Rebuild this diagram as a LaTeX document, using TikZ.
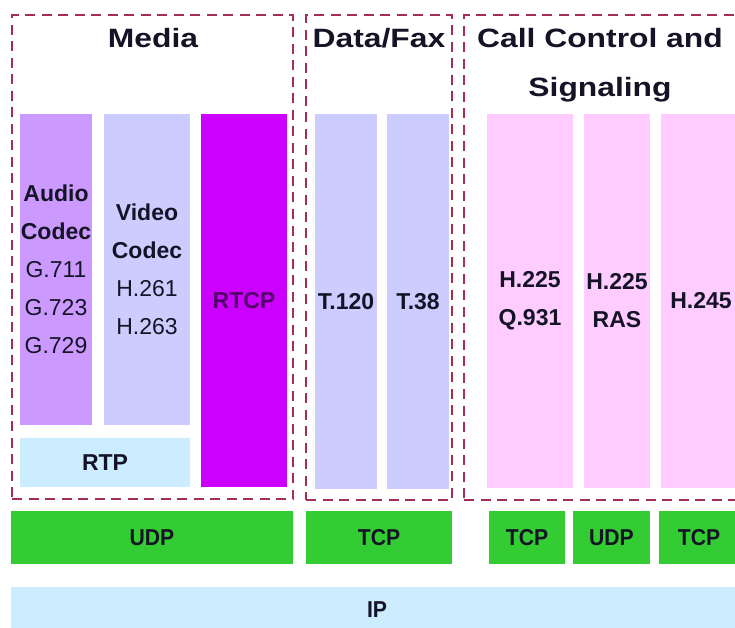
\documentclass[tikz,border=0pt]{standalone}
\usepackage{fontspec}
\setmainfont{Liberation Sans}
\newfontfamily\titlefont[FakeStretch=1.2]{Liberation Sans}
\newfontfamily\protofont[FakeStretch=0.92]{Liberation Sans}

\definecolor{framered}{HTML}{A33050}
\definecolor{ink}{HTML}{141426}
\definecolor{audiofill}{HTML}{CC99FF}
\definecolor{lavender}{HTML}{CCCCFF}
\definecolor{rtcpfill}{HTML}{CC00FF}
\definecolor{paleblue}{HTML}{CCECFF}
\definecolor{pinkfill}{HTML}{FFCCFF}
\definecolor{greenfill}{HTML}{33CC33}

\tikzset{
  zone/.style={draw=framered, line width=2pt, dash pattern=on 10pt off 6.5pt,
    anchor=north west, inner sep=0pt, outer sep=0pt},
  grouptitle/.style={anchor=north, inner sep=0pt, align=center, text=ink,
    font=\titlefont\fontsize{26.5}{49}\selectfont\bfseries},
  blk/.style={anchor=north west, inner sep=0pt, outer sep=0pt, align=center,
    text=ink, font=\fontsize{23}{38}\selectfont\bfseries},
  proto/.style={blk, fill=greenfill, font=\protofont\fontsize{23}{28}\selectfont\bfseries},
}

\begin{document}
\begin{tikzpicture}[x=1pt, y=-1pt]
\path[use as bounding box, clip] (0,0) rectangle (735,628);

% dashed groups
\node[zone, minimum width=281, minimum height=484] (media) at (12,15) {};
\node[zone, minimum width=146, minimum height=485] (datafax) at (306,15) {};
\node[zone, minimum width=280, minimum height=485] (callctl) at (464,15) {};

\node[grouptitle] (mediatitle) at (153,28) {Media};
\node[grouptitle] (datafaxtitle) at (379,28) {Data/Fax};
\node[grouptitle] (callctltitle) at (600,28) {Call Control and\\Signaling};

% media stack
\node[blk, fill=audiofill, minimum width=72, minimum height=311] (audio) at (20,114)
  {Audio\\Codec\\{\mdseries G.711}\\{\mdseries G.723}\\{\mdseries G.729}};
\node[blk, fill=lavender, minimum width=86, minimum height=311] (video) at (104,114)
  {Video\\Codec\\{\mdseries H.261}\\{\mdseries H.263}};
\node[blk, fill=rtcpfill, text=rtcpfill!40!black, minimum width=86, minimum height=373] (rtcp) at (201,114) {RTCP};
\node[blk, fill=paleblue, minimum width=170, minimum height=49] (rtp) at (20,438) {RTP};

% data/fax
\node[blk, fill=lavender, minimum width=62, minimum height=375] (t120) at (315,114) {T.120};
\node[blk, fill=lavender, minimum width=62, minimum height=375] (t38) at (387,114) {T.38};

% call control
\node[blk, fill=pinkfill, minimum width=86, minimum height=374] (hq931) at (487,114) {H.225\\Q.931};
\node[blk, fill=pinkfill, minimum width=66, minimum height=374] (hras) at (584,114) {H.225\\RAS};
\node[blk, fill=pinkfill, minimum width=80, minimum height=374] (h245) at (661,114) {H.245};

% transport
\node[proto, minimum width=282, minimum height=53] (udpmedia) at (11,511) {UDP};
\node[proto, minimum width=146, minimum height=53] (tcpdata) at (306,511) {TCP};
\node[proto, minimum width=76, minimum height=53] (tcpq931) at (489,511) {TCP};
\node[proto, minimum width=77, minimum height=53] (udpras) at (573,511) {UDP};
\node[proto, minimum width=80, minimum height=53] (tcph245) at (659,511) {TCP};

\node[proto, fill=paleblue, minimum width=732, minimum height=46] (ip) at (11,587) {IP};
\end{tikzpicture}
\end{document}
